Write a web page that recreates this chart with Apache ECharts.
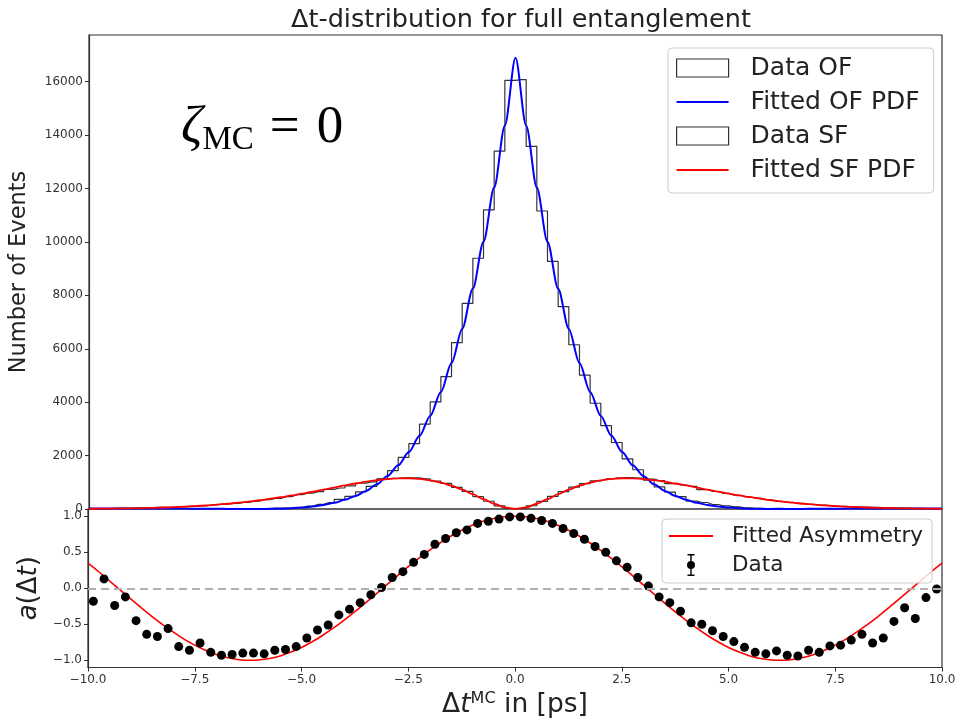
<!DOCTYPE html>
<html>
<head>
<meta charset="utf-8">
<script src="https://cdn.jsdelivr.net/npm/echarts@6/dist/echarts.min.js"></script>
<style>
  html, body { margin: 0; padding: 0; background: #fff; }
  #chart { width: 961px; height: 720px; }
</style>
</head>
<body>
<div id="chart"></div>
<script>
// histogram bin centres (bin width 0.25 ps)
var binCenters = [-9.875, -9.625, -9.375, -9.125, -8.875, -8.625, -8.375, -8.125, -7.875, -7.625,
  -7.375, -7.125, -6.875, -6.625, -6.375, -6.125, -5.875, -5.625, -5.375, -5.125,
  -4.875, -4.625, -4.375, -4.125, -3.875, -3.625, -3.375, -3.125, -2.875, -2.625,
  -2.375, -2.125, -1.875, -1.625, -1.375, -1.125, -0.875, -0.625, -0.375, -0.125,
  0.125, 0.375, 0.625, 0.875, 1.125, 1.375, 1.625, 1.875, 2.125, 2.375,
  2.625, 2.875, 3.125, 3.375, 3.625, 3.875, 4.125, 4.375, 4.625, 4.875,
  5.125, 5.375, 5.625, 5.875, 6.125, 6.375, 6.625, 6.875, 7.125, 7.375,
  7.625, 7.875, 8.125, 8.375, 8.625, 8.875, 9.125, 9.375, 9.625, 9.875];

var dataOF = [11, 18, 14, 19, 14, 11, 12, 18, 9, 8,
  16, 9, 7, 9, 13, 15, 16, 30, 38, 56,
  109, 173, 238, 361, 476, 645, 849, 1110, 1440, 1930,
  2450, 3180, 4010, 4960, 6230, 7700, 9390, 11200, 13400, 16050,
  16080, 13580, 11160, 9270, 7580, 6150, 5010, 3960, 3120, 2490,
  1880, 1470, 1080, 832, 633, 463, 298, 243, 169, 116,
  77, 45, 23, 16, 20, 9, 7, 13, 9, 14,
  12, 14, 15, 8, 9, 14, 16, 10, 13, 13];

var dataSF = [15, 13, 22, 24, 36, 48, 58, 65, 88, 107,
  119, 150, 182, 212, 248, 293, 347, 397, 465, 537,
  592, 652, 734, 786, 864, 967, 1016, 1128, 1150, 1165,
  1168, 1130, 1048, 958, 810, 660, 465, 290, 118, 18,
  16, 122, 286, 471, 653, 817, 952, 1055, 1125, 1162,
  1172, 1158, 1122, 1059, 949, 898, 849, 729, 656, 585,
  516, 458, 404, 347, 288, 252, 214, 176, 150, 121,
  103, 83, 68, 62, 50, 36, 27, 26, 18, 13];

var dataAsym = [-0.18, 0.13, -0.24, -0.12, -0.45, -0.64, -0.67, -0.56, -0.81, -0.86,
  -0.76, -0.89, -0.93, -0.92, -0.90, -0.90, -0.91, -0.86, -0.85, -0.81,
  -0.69, -0.58, -0.51, -0.37, -0.29, -0.20, -0.09, 0.01, 0.15, 0.23,
  0.36, 0.47, 0.61, 0.69, 0.77, 0.81, 0.90, 0.93, 0.96, 0.99,
  0.99, 0.97, 0.94, 0.90, 0.83, 0.76, 0.68, 0.58, 0.50, 0.38,
  0.29, 0.15, 0.03, -0.12, -0.20, -0.32, -0.48, -0.50, -0.59, -0.67,
  -0.74, -0.82, -0.89, -0.91, -0.87, -0.93, -0.94, -0.86, -0.89, -0.80,
  -0.79, -0.72, -0.64, -0.76, -0.69, -0.46, -0.27, -0.42, -0.13, -0.01];

// fitted curves, sampled every 0.25 ps
var tCurve = [-10, -9.75, -9.5, -9.25, -9, -8.75, -8.5, -8.25, -8, -7.75,
  -7.5, -7.25, -7, -6.75, -6.5, -6.25, -6, -5.75, -5.5, -5.25,
  -5, -4.75, -4.5, -4.25, -4, -3.75, -3.5, -3.25, -3, -2.75,
  -2.5, -2.25, -2, -1.75, -1.5, -1.25, -1, -0.75, -0.5, -0.25,
  0,
  0.25, 0.5, 0.75, 1, 1.25, 1.5, 1.75, 2, 2.25, 2.5,
  2.75, 3, 3.25, 3.5, 3.75, 4, 4.25, 4.5, 4.75, 5,
  5.25, 5.5, 5.75, 6, 6.25, 6.5, 6.75, 7, 7.25, 7.5,
  7.75, 8, 8.25, 8.5, 8.75, 9, 9.25, 9.5, 9.75, 10];

var fitOF = [16, 17, 18, 19, 19, 20, 19, 18, 17, 15,
  13, 10, 7, 4, 2, 0, 1, 5, 14, 31,
  56, 96, 153, 233, 342, 487, 678, 925, 1239, 1637,
  2132, 2741, 3486, 4386, 5465, 6745, 8251, 10008, 12039, 14364,
  16900,
  14364, 12039, 10008, 8251, 6745, 5465, 4386, 3486, 2741, 2132,
  1637, 1239, 925, 678, 487, 342, 233, 153, 96, 56,
  31, 14, 5, 1, 0, 2, 4, 7, 10, 13,
  15, 17, 18, 19, 20, 19, 19, 18, 17, 16];

var fitSF = [8, 11, 15, 20, 26, 34, 44, 56, 71, 89,
  110, 134, 163, 196, 235, 279, 327, 383, 442, 507,
  578, 650, 727, 804, 882, 954, 1022, 1079, 1122, 1148,
  1151, 1128, 1075, 990, 873, 725, 554, 370, 196, 58,
  0,
  58, 196, 370, 554, 725, 873, 990, 1075, 1128, 1151,
  1148, 1122, 1079, 1022, 954, 882, 804, 727, 650, 578,
  507, 442, 383, 327, 279, 235, 196, 163, 134, 110,
  89, 71, 56, 44, 34, 26, 20, 15, 11, 8];

var fitAsym = [0.350, 0.229, 0.104, -0.023, -0.149, -0.273, -0.393, -0.506, -0.610, -0.706,
  -0.790, -0.861, -0.918, -0.961, -0.988, -1.000, -0.996, -0.976, -0.939, -0.886,
  -0.822, -0.743, -0.652, -0.551, -0.441, -0.324, -0.202, -0.077, 0.050, 0.176,
  0.299, 0.417, 0.529, 0.632, 0.725, 0.806, 0.874, 0.929, 0.968, 0.992,
  1.000,
  0.992, 0.968, 0.929, 0.874, 0.806, 0.725, 0.632, 0.529, 0.417, 0.299,
  0.176, 0.050, -0.077, -0.202, -0.324, -0.441, -0.551, -0.652, -0.743, -0.822,
  -0.886, -0.939, -0.976, -0.996, -1.000, -0.988, -0.961, -0.918, -0.861, -0.790,
  -0.706, -0.610, -0.506, -0.393, -0.273, -0.149, -0.023, 0.104, 0.229, 0.350];

// tick labels
var ticksEvents = [0, 2000, 4000, 6000, 8000, 10000, 12000, 14000, 16000];
var ticksAsym = [-1, -0.5, 0, 0.5, 1];

function pairs(xs, ys) {
  return xs.map(function (x, i) { return [x, ys[i]]; });
}
function minusFmt(v) {
  return v.toFixed(1).replace('-', '\u2212');
}

var chart = echarts.init(document.getElementById('chart'));
var FONT = 'DejaVu Sans';
var FRAME = '#333';

var option = {
  animation: false,
  backgroundColor: '#fff',
  textStyle: { fontFamily: FONT },
  title: {
    text: '\u0394t-distribution for full entanglement',
    left: 516,
    top: 2,
    textAlign: 'center',
    textStyle: { fontFamily: FONT, fontSize: 25.5, fontWeight: 'normal', color: '#222' }
  },
  grid: [
    { left: 88, top: 35, width: 854, height: 474, show: true, borderColor: FRAME, borderWidth: 1.2, backgroundColor: 'transparent' },
    { left: 88, top: 509, width: 854, height: 159, show: true, borderColor: FRAME, borderWidth: 1.2, backgroundColor: 'transparent' }
  ],
  xAxis: [
    {
      type: 'value', gridIndex: 0, min: -10, max: 10, interval: 2.5,
      axisLine: { show: false }, axisTick: { show: false }, axisLabel: { show: false },
      splitLine: { show: false }
    },
    {
      type: 'value', gridIndex: 1, min: -10, max: 10, interval: 2.5,
      axisLine: { show: true, onZero: false, lineStyle: { color: FRAME, width: 1.2 } },
      axisTick: { show: true, length: 4, lineStyle: { color: FRAME } },
      axisLabel: { fontSize: 12, color: '#333', margin: 6, formatter: minusFmt },
      splitLine: { show: false },
      name: '{d|\u0394}{t|t}{s|MC}{n| in [ps]}',
      nameLocation: 'middle',
      nameGap: 23,
      nameTextStyle: {
        verticalAlign: 'top',
        rich: {
          d: { fontFamily: FONT, fontSize: 26.5, color: '#222', lineHeight: 30 },
          t: { fontFamily: FONT, fontSize: 26.5, fontStyle: 'italic', color: '#222', lineHeight: 30 },
          s: { fontFamily: FONT, fontSize: 16, color: '#222', verticalAlign: 'top', lineHeight: 18 },
          n: { fontFamily: FONT, fontSize: 26.5, color: '#222', lineHeight: 30 }
        }
      }
    }
  ],
  yAxis: [
    {
      type: 'value', gridIndex: 0, min: 0, max: 17750,
      axisLine: { show: true, onZero: false, lineStyle: { color: FRAME, width: 1.2 } },
      axisTick: { show: true, length: 4, customValues: ticksEvents, lineStyle: { color: FRAME } },
      axisLabel: {
        fontSize: 12, color: '#333', margin: 6, customValues: ticksEvents,
        formatter: function (v) { return String(v); }
      },
      splitLine: { show: false },
      name: 'Number of Events',
      nameLocation: 'middle',
      nameGap: 58,
      nameTextStyle: { fontFamily: FONT, fontSize: 22.5, color: '#222' }
    },
    {
      type: 'value', gridIndex: 1, min: -1.1, max: 1.1,
      axisLine: { show: true, onZero: false, lineStyle: { color: FRAME, width: 1.2 } },
      axisTick: { show: true, length: 4, customValues: ticksAsym, lineStyle: { color: FRAME } },
      axisLabel: { fontSize: 12, color: '#333', margin: 6, customValues: ticksAsym, formatter: minusFmt },
      splitLine: { show: false },
      name: '{i|a}{n|(\u0394}{i|t}{n|)}',
      nameLocation: 'middle',
      nameGap: 44,
      nameTextStyle: {
        rich: {
          i: { fontFamily: FONT, fontSize: 26, fontStyle: 'italic', color: '#222' },
          n: { fontFamily: FONT, fontSize: 26, color: '#222' }
        }
      }
    }
  ],
  legend: [
    {
      orient: 'vertical',
      left: 668, top: 48,
      padding: [7, 14, 10, 8],
      itemGap: 8,
      itemWidth: 52, itemHeight: 18,
      selectedMode: false,
      backgroundColor: 'rgba(255,255,255,0.8)',
      borderColor: '#cccccc', borderWidth: 1, borderRadius: 4,
      textStyle: { fontFamily: FONT, fontSize: 25, color: '#222', lineHeight: 26, padding: [0, 0, 0, 17] },
      data: [
        { name: 'Data OF', icon: 'rect', itemStyle: { color: '#fff', borderColor: '#333', borderWidth: 1.2 } },
        { name: 'Fitted OF PDF', icon: 'path://M0,0H52V2H0Z', itemStyle: { color: 'blue', borderWidth: 0 } },
        { name: 'Data SF', icon: 'rect', itemStyle: { color: '#fff', borderColor: '#333', borderWidth: 1.2 } },
        { name: 'Fitted SF PDF', icon: 'path://M0,0H52V2H0Z', itemStyle: { color: 'red', borderWidth: 0 } }
      ]
    },
    {
      orient: 'vertical',
      left: 662, top: 519,
      padding: [5, 9, 6, 7],
      itemGap: 5,
      itemWidth: 44, itemHeight: 22,
      selectedMode: false,
      backgroundColor: 'rgba(255,255,255,0.8)',
      borderColor: '#cccccc', borderWidth: 1, borderRadius: 4,
      textStyle: { fontFamily: FONT, fontSize: 21.5, color: '#222', lineHeight: 24, padding: [0, 0, 0, 14] },
      data: [
        { name: 'Fitted Asymmetry', icon: 'path://M0,0H44V2H0Z', itemStyle: { color: 'red', borderWidth: 0 } },
        { name: 'Data', icon: 'path://M1.5,0H8.5V1.5H1.5Z M4.3,0H5.7V22H4.3Z M1.5,20.5H8.5V22H1.5Z M9,11A4,4,0,1,1,1,11A4,4,0,1,1,9,11Z', itemStyle: { color: '#000', borderWidth: 0, opacity: 1 } }
      ]
    }
  ],
  graphic: [
    {
      type: 'text',
      left: 181, top: 102,
      style: {
        text: '{z|\u03B6}{s|MC}{q|=}{o|0}',
        rich: {
          z: { fontFamily: 'Liberation Serif', fontSize: 53, fontStyle: 'italic', fill: '#000', lineHeight: 56 },
          s: { fontFamily: 'Liberation Serif', fontSize: 33, fill: '#000', verticalAlign: 'bottom', lineHeight: 50 },
          q: { fontFamily: 'Liberation Serif', fontSize: 53, fill: '#000', lineHeight: 56, padding: [0, 17, 0, 16] },
          o: { fontFamily: 'Liberation Serif', fontSize: 53, fill: '#000', lineHeight: 56 }
        }
      }
    }
  ],
  series: [
    {
      name: 'Data OF', type: 'line', xAxisIndex: 0, yAxisIndex: 0,
      step: 'middle', symbol: 'none',
      data: pairs(binCenters, dataOF),
      lineStyle: { color: '#333', width: 1.2 },
      itemStyle: { color: '#fff' },
      z: 2
    },
    {
      name: 'Fitted OF PDF', type: 'line', xAxisIndex: 0, yAxisIndex: 0,
      symbol: 'none', smooth: 0.3, smoothMonotone: 'x',
      data: pairs(tCurve, fitOF),
      lineStyle: { color: 'blue', width: 2 },
      itemStyle: { color: 'blue' },
      z: 3
    },
    {
      name: 'Data SF', type: 'line', xAxisIndex: 0, yAxisIndex: 0,
      step: 'middle', symbol: 'none',
      data: pairs(binCenters, dataSF),
      lineStyle: { color: '#333', width: 1.2 },
      itemStyle: { color: '#fff' },
      z: 4
    },
    {
      name: 'Fitted SF PDF', type: 'line', xAxisIndex: 0, yAxisIndex: 0,
      symbol: 'none', smooth: 0.3, smoothMonotone: 'x',
      data: pairs(tCurve, fitSF),
      lineStyle: { color: 'red', width: 1.8 },
      itemStyle: { color: 'red' },
      z: 5
    },
    {
      name: 'Fitted Asymmetry', type: 'line', xAxisIndex: 1, yAxisIndex: 1,
      symbol: 'none', smooth: 0.3,
      data: pairs(tCurve, fitAsym),
      lineStyle: { color: 'red', width: 1.6 },
      itemStyle: { color: 'red' },
      markLine: {
        silent: true, symbol: 'none', label: { show: false },
        lineStyle: { color: '#b0b0b0', type: [8, 5], width: 1.8 },
        data: [{ yAxis: 0 }]
      },
      z: 3
    },
    {
      name: 'Data', type: 'scatter', xAxisIndex: 1, yAxisIndex: 1,
      symbol: 'circle', symbolSize: 9,
      data: pairs(binCenters, dataAsym),
      itemStyle: { color: '#000', opacity: 1 },
      z: 4
    }
  ]
};

chart.setOption(option);
</script>
</body>
</html>
